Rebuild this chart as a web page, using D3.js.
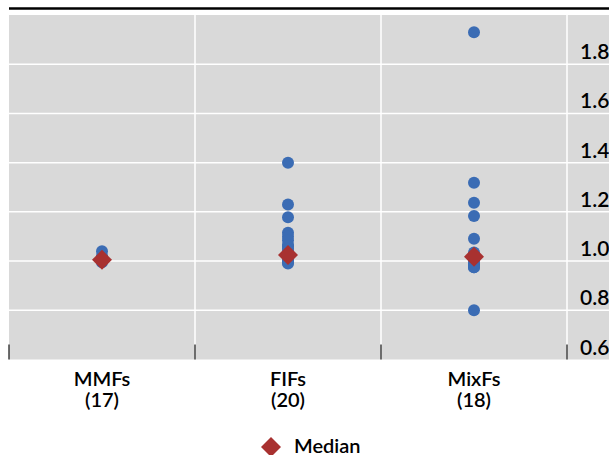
<!DOCTYPE html>
<html>
<head>
<meta charset="utf-8">
<script src="https://cdn.jsdelivr.net/npm/d3@7"></script>
<style>
  html, body { margin: 0; padding: 0; background: #fff; }
  svg { display: block; }
  text { font-family: Lato, "Noto Sans", sans-serif; fill: #000; font-weight: 600; }
</style>
</head>
<body>
<svg id="chart" width="609" height="455"></svg>
<script>
const categories = ["MMFs", "FIFs", "MixFs"];
const counts = ["(17)", "(20)", "(18)"];
const mmfValues = [1.04, 1.02, 1.01, 1.01, 1.01, 1.005, 1.005, 1.005, 1.005, 1.0, 1.0, 1.0, 1.0, 1.0, 1.0, 1.0, 0.995];
const fifValues = [1.40, 1.23, 1.178, 1.115, 1.10, 1.085, 1.065, 1.06, 1.05, 1.04, 1.03, 1.03, 1.025, 1.02, 1.02, 1.01, 1.01, 1.0, 0.995, 0.99];
const mixValues = [1.93, 1.318, 1.237, 1.183, 1.091, 1.035, 1.025, 1.02, 1.02, 1.015, 1.01, 1.0, 0.99, 0.985, 0.98, 0.975, 0.975, 0.80];
const medians = [1.005, 1.025, 1.018];
const yTicks = [0.6, 0.8, 1.0, 1.2, 1.4, 1.6, 1.8];
const legendLabel = "Median";

const seriesValues = [mmfValues, fifValues, mixValues];

const svg = d3.select("#chart");
const plotLeft = 9, plotRight = 567, fullRight = 609, plotTop = 15, plotBottom = 359.5;

const x = d3.scaleBand().domain(categories).range([plotLeft, plotRight]).padding(0);
const y = d3.scaleLinear().domain([0.6, 2.0]).range([plotBottom, plotTop]);

// background
svg.append("rect")
  .attr("x", plotLeft).attr("y", plotTop)
  .attr("width", fullRight - plotLeft).attr("height", plotBottom - plotTop)
  .attr("fill", "#d9d9d9");

// top black rule
svg.append("line")
  .attr("x1", plotLeft).attr("x2", fullRight)
  .attr("y1", 8.5).attr("y2", 8.5)
  .attr("stroke", "#000").attr("stroke-width", 2.5);

// horizontal gridlines
svg.append("g").selectAll("line")
  .data(yTicks.slice(1))
  .join("line")
  .attr("x1", plotLeft).attr("x2", fullRight)
  .attr("y1", d => y(d)).attr("y2", d => y(d))
  .attr("stroke", "#fff").attr("stroke-width", 1.5);

// vertical gridlines at band boundaries
const bounds = categories.map(c => x(c) + x.bandwidth());
svg.append("g").selectAll("line")
  .data(bounds)
  .join("line")
  .attr("x1", d => d).attr("x2", d => d)
  .attr("y1", plotTop).attr("y2", plotBottom)
  .attr("stroke", "#fff").attr("stroke-width", 1.5);

// bottom tick marks
const tickXs = [plotLeft].concat(bounds);
svg.append("g").selectAll("line")
  .data(tickXs)
  .join("line")
  .attr("x1", d => d).attr("x2", d => d)
  .attr("y1", plotBottom - 15).attr("y2", plotBottom)
  .attr("stroke", "#222").attr("stroke-width", 1.3);

// y tick labels (right side, above gridline)
svg.append("g").selectAll("text")
  .data(yTicks)
  .join("text")
  .attr("x", 580)
  .attr("y", d => y(d) - 5)
  .attr("font-size", 21)
  .text(d => d.toFixed(1));

// dots
categories.forEach((c, i) => {
  const cx = x(c) + x.bandwidth() / 2;
  svg.append("g").selectAll("circle")
    .data(seriesValues[i])
    .join("circle")
    .attr("cx", cx)
    .attr("cy", d => y(d))
    .attr("r", 6)
    .attr("fill", "#3b6cb4");
});

// median diamonds
const diamond = d3.symbol().type(d3.symbolSquare).size(200);
svg.append("g").selectAll("path")
  .data(medians)
  .join("path")
  .attr("d", diamond)
  .attr("transform", (d, i) => `translate(${x(categories[i]) + x.bandwidth() / 2},${y(d)}) rotate(45)`)
  .attr("fill", "#a83130");

// category labels
const catG = svg.append("g");
categories.forEach((c, i) => {
  const cx = x(c) + x.bandwidth() / 2;
  catG.append("text")
    .attr("x", cx).attr("y", 386)
    .attr("text-anchor", "middle")
    .attr("font-size", 20)
    .text(c);
  catG.append("text")
    .attr("x", cx).attr("y", 407)
    .attr("text-anchor", "middle")
    .attr("font-size", 20)
    .text(counts[i]);
});

// legend
svg.append("path")
  .attr("d", diamond)
  .attr("transform", "translate(271,447) rotate(45)")
  .attr("fill", "#a83130");
svg.append("text")
  .attr("x", 294).attr("y", 453)
  .attr("font-size", 20)
  .text(legendLabel);
</script>
</body>
</html>
